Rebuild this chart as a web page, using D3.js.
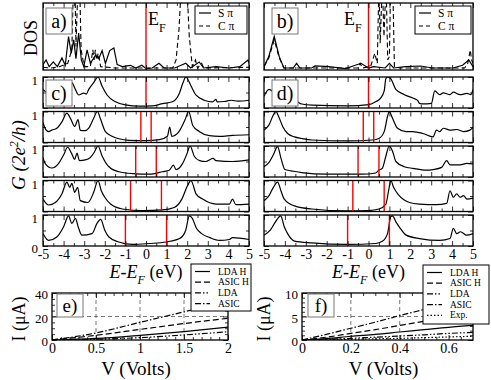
<!DOCTYPE html>
<html>
<head>
<meta charset="utf-8">
<script src="https://cdn.jsdelivr.net/npm/d3@7"></script>
<style>
body { margin: 0; background: #fff; }
svg, svg text { font-family: "Liberation Serif", "DejaVu Serif", serif; }
</style>
</head>
<body>
<svg id="fig" width="491" height="380"></svg>
<script>
// ---- DOS (E en eV, valeur relative) ----
const dosA_S = [[-5,0.08],[-4.85,0.15],[-4.7,0.05],[-4.5,0.12],[-4.3,0.05],[-4.08,0.18],[-3.92,0.07],[-3.76,0.5],[-3.63,0.25],[-3.51,0.45],[-3.4,0.17],[-3.27,0.55],[-3.14,0.15],[-3.02,0.05],[-2.86,0.3],[-2.7,0.1],[-2.45,0.22],[-2.29,0.17],[-2.13,0.29],[-1.97,0.1],[-1.76,0.29],[-1.56,0.33],[-1.4,0.08],[-1.15,0.05],[-0.75,0.07],[-0.5,0.03],[-0.2,0.07],[0,0.02],[0.3,0.03],[0.63,0.1],[0.88,0.03],[1.4,0.03],[1.93,0.1],[2.17,0.03],[2.58,0.12],[2.8,0.03],[3.4,0.05],[4.05,0.03],[4.55,0.05],[4.95,0.15],[5,0.1]];
const dosA_C = [[-5,0.04],[-4.6,0.03],[-4.2,0.05],[-3.8,0.1],[-3.6,0.3],[-3.52,1.3],[-3.45,1.3],[-3.4,0.35],[-3.3,1.3],[-3.22,1.3],[-3.15,0.3],[-3.0,0.05],[-2.7,0.05],[-2.58,0.3],[-2.52,0.15],[-2.46,0.3],[-2.4,0.15],[-2.32,0.25],[-2.2,0.05],[-1.5,0.03],[1.3,0.03],[1.46,0.15],[1.6,0.6],[1.72,1.3],[1.98,1.3],[2.1,0.5],[2.25,0.05],[2.4,0.15],[2.5,0.03],[2.7,0.1],[2.8,0.03],[5,0.04]];
const dosB_S = [[-5,0.05],[-4.77,0.2],[-4.51,0.5],[-4.27,0.2],[-4.05,0.03],[-3.6,0.03],[-3.44,0.1],[-3.28,0.03],[-2.72,0.03],[-2.56,0.06],[-1.9,0.05],[-1.1,0.02],[-0.36,0.1],[0,0.03],[0.24,0.05],[0.8,0.03],[1.0,0.1],[1.2,0.03],[1.77,0.05],[2.5,0.06],[3.06,0.03],[4.04,0.03],[4.5,0.07],[4.8,0.15],[5,0.05]];
const dosB_C = [[-5,0.05],[-4.77,0.18],[-4.51,0.45],[-4.27,0.18],[-4.05,0.03],[-0.5,0.03],[-0.4,0.1],[-0.3,0.03],[0.1,0.05],[0.3,0.25],[0.42,0.1],[0.5,1.3],[0.56,0.4],[0.66,1.3],[0.74,0.5],[0.84,1.3],[0.92,0.15],[1.0,0.2],[1.06,1.3],[1.16,1.3],[1.24,0.05],[1.5,0.03],[4.6,0.03],[4.75,0.1],[4.87,0.3],[4.93,0.15],[5,0.1]];

// ---- Transmission G (2e^2/h) ----
const gC1 = [[-5,0.6],[-4.8,0.5],[-3.6,0.82],[-3.43,0.6],[-3.27,0.42],[-3.02,0.48],[-2.9,0.45],[-2.78,0.6],[-2.54,0.82],[-2.33,1.0],[-2.13,0.7],[-1.89,0.42],[-1.48,0.2],[-1.0,0.1],[-0.34,0.06],[0.3,0.07],[0.8,0.14],[1.28,0.2],[1.6,0.44],[1.8,0.82],[1.93,1.0],[2.18,0.72],[2.42,0.42],[2.83,0.25],[3.23,0.2],[3.4,0.28],[3.45,0.2],[3.8,0.21],[4.15,0.25],[4.45,0.22],[5,0.25]];
const gC2 = [[-5,0.65],[-4.9,0.46],[-4.73,0.35],[-4.57,0.4],[-4.33,0.46],[-4.08,0.67],[-3.84,0.95],[-3.67,0.78],[-3.46,0.52],[-3.3,0.74],[-3.19,0.39],[-2.95,0.38],[-2.78,0.46],[-2.54,0.78],[-2.36,1.0],[-2.2,0.74],[-1.97,0.35],[-1.65,0.2],[-1.32,0.12],[-0.83,0.07],[0,0.06],[0.65,0.09],[1.04,0.2],[1.15,0.5],[1.25,0.2],[1.6,0.35],[1.9,0.74],[2.07,1.0],[2.27,0.55],[2.6,0.35],[3.07,0.22],[3.56,0.2],[4.2,0.23],[5,0.25]];
const gC3 = [[-5,0.63],[-4.9,0.44],[-4.57,0.29],[-4.24,0.44],[-4.0,0.71],[-3.8,0.96],[-3.62,0.77],[-3.46,0.57],[-3.35,0.77],[-3.23,0.53],[-2.95,0.55],[-2.7,0.63],[-2.5,0.81],[-2.33,1.0],[-2.13,0.68],[-1.8,0.33],[-1.32,0.17],[-0.65,0.11],[0.16,0.09],[0.8,0.17],[1.13,0.22],[1.33,0.38],[1.46,0.24],[1.78,0.44],[2.0,0.77],[2.14,1.0],[2.35,0.66],[2.6,0.53],[2.9,0.5],[3.25,0.6],[3.4,0.53],[4.2,0.5],[5,0.55]];
const gC4 = [[-5,0.4],[-4.73,0.21],[-4.4,0.29],[-4.08,0.57],[-3.84,0.95],[-3.7,0.78],[-3.6,0.91],[-3.46,0.62],[-3.32,0.78],[-3.19,0.35],[-2.82,0.29],[-2.54,0.62],[-2.33,1.0],[-2.17,0.67],[-2.0,0.46],[-1.72,0.24],[-1.15,0.08],[-0.16,0.03],[0.8,0.05],[1.37,0.13],[1.74,0.4],[2.02,0.84],[2.18,1.0],[2.43,0.57],[2.75,0.4],[3.4,0.24],[4.05,0.24],[4.2,0.4],[4.36,0.22],[5,0.24]];
const gC5 = [[-5,0.4],[-4.73,0.18],[-4.33,0.29],[-4.0,0.62],[-3.76,0.97],[-3.6,0.73],[-3.43,0.89],[-3.27,0.57],[-3.11,0.35],[-2.62,0.4],[-2.38,0.73],[-2.2,0.86],[-2.0,0.51],[-1.8,0.29],[-1.32,0.13],[-0.65,0.05],[0.16,0.08],[0.98,0.13],[1.63,0.24],[1.93,0.51],[2.1,0.97],[2.25,0.89],[2.45,0.57],[2.7,0.4],[3.1,0.27],[3.56,0.18],[4.05,0.21],[4.2,0.27],[5,0.21]];
const gD1 = [[-5,0.38],[-4.76,0.6],[-4.5,0.5],[-3.4,0.2],[-3.2,0.13],[-2.7,0.09],[-1,0.07],[0.02,0.11],[0.34,0.2],[0.58,0.32],[0.75,0.55],[0.83,0.94],[0.91,1.0],[1.07,0.94],[1.31,0.6],[1.72,0.43],[2.12,0.32],[2.36,0.24],[2.44,0.15],[2.6,0.13],[3.01,0.15],[3.17,0.55],[3.41,0.43],[3.58,0.49],[3.9,0.43],[4.06,0.51],[4.38,0.43],[4.71,0.47],[4.9,0.43],[5,0.6]];
const gD2 = [[-5,0.4],[-4.76,0.57],[-4.55,0.89],[-4.43,1.0],[-4.3,0.84],[-4.1,0.51],[-3.87,0.29],[-3.54,0.18],[-3.2,0.13],[-2.7,0.08],[-1,0.05],[0.18,0.08],[0.5,0.13],[0.75,0.35],[0.91,0.84],[0.99,1.0],[1.15,0.78],[1.39,0.46],[1.8,0.35],[2.12,0.35],[2.6,0.29],[3.09,0.18],[3.25,0.4],[3.41,0.35],[3.58,0.46],[3.9,0.4],[4.22,0.42],[4.55,0.35],[4.85,0.4],[5,0.49]];
const gD3 = [[-5,0.33],[-4.76,0.47],[-4.55,0.72],[-4.35,0.98],[-4.19,0.61],[-4.0,0.24],[-3.7,0.2],[-3.2,0.14],[-2,0.09],[-0.3,0.09],[0.34,0.13],[0.5,0.22],[0.66,0.28],[0.83,0.67],[0.99,1.0],[1.15,0.83],[1.31,0.5],[1.72,0.33],[2.12,0.28],[2.77,0.22],[3.09,0.24],[3.5,0.31],[3.74,0.53],[3.9,0.39],[4.38,0.39],[4.71,0.44],[5,0.42]];
const gD4 = [[-5,0.35],[-4.76,0.51],[-4.55,0.78],[-4.35,0.95],[-4.19,0.67],[-4.03,0.4],[-3.54,0.18],[-2.72,0.08],[-1,0.02],[0,0.03],[0.5,0.08],[0.83,0.24],[0.99,0.78],[1.07,1.0],[1.2,0.78],[1.47,0.51],[1.96,0.29],[2.44,0.24],[3.25,0.22],[3.74,0.26],[3.9,0.67],[4.06,0.46],[4.22,0.57],[4.38,0.46],[4.55,0.51],[4.71,0.4],[5,0.43]];
const gD5 = [[-5,0.35],[-4.7,0.51],[-4.45,0.78],[-4.2,0.97],[-4.03,0.62],[-3.87,0.4],[-3.54,0.16],[-2.72,0.1],[-1,0.05],[0.34,0.08],[0.66,0.15],[0.91,0.4],[1.07,0.95],[1.15,0.97],[1.31,0.78],[1.47,0.62],[1.8,0.35],[2.44,0.24],[3.41,0.18],[3.9,0.24],[4.06,0.57],[4.22,0.4],[4.4,0.46],[4.7,0.35],[5,0.4]];
const biasHalf = [0, 0.25, 0.5, 0.75, 1];
const energyTicks = [-5,-4,-3,-2,-1,0,1,2,3,4,5];

// ---- Courbes I-V ----
const voltsE = [0, 0.5, 1, 1.5, 2];
const ivE_ldaH = [0, 1.3, 4, 7.2, 11];
const ivE_asicH = [0, 4, 9, 14, 18.5];
const ivE_lda = [0, 0.6, 2, 4.3, 7];
const ivE_asic = [0, 6, 15, 24, 33];
const voltsF = [0, 0.1, 0.2, 0.3, 0.4, 0.5, 0.6, 0.7];
const ivF_ldaH = [0, 0.3, 0.8, 1.2, 1.7, 2.2, 2.7, 3.1];
const ivF_asicH = [0, 0.6, 1.4, 2.2, 3.1, 4.0, 5.0, 5.8];
const ivF_lda = [0, 0.15, 0.35, 0.6, 0.85, 1.1, 1.4, 1.6];
const ivF_asic = [0, 1.2, 2.5, 3.8, 5.2, 6.5, 7.8, 9];
const ivF_exp = [0, 0.05, 0.15, 0.25, 0.35, 0.5, 0.65, 0.8];
const legendIV = ['LDA H', 'ASIC H', 'LDA', 'ASIC', 'Exp.'];
const dashIV = [null, '6,3', '6,2,1.5,2,1.5,2', '6,2,1.5,2', '1.5,2'];

const SERIF = '"Liberation Serif", "DejaVu Serif", serif';
const svg = d3.select('#fig');
let clipId = 0;

// cadre + ticks vers l'intérieur
function panelFrame(x, y, ticksX, minorX, ticksY, minorY) {
    const g = svg.append('g');
    const [x0, x1] = x.range();
    const [y1, y0] = y.range();
    const mk = (axis, tr) => g.append('g').attr('transform', tr).call(axis)
        .call(s => s.select('.domain').remove())
        .call(s => s.selectAll('line').attr('stroke', '#000').attr('stroke-width', 0.8));
    mk(d3.axisBottom(x).tickValues(ticksX).tickSize(-5).tickFormat(''), `translate(0,${y1})`);
    mk(d3.axisTop(x).tickValues(ticksX).tickSize(-5).tickFormat(''), `translate(0,${y0})`);
    mk(d3.axisBottom(x).tickValues(minorX).tickSize(-3).tickFormat(''), `translate(0,${y1})`);
    mk(d3.axisTop(x).tickValues(minorX).tickSize(-3).tickFormat(''), `translate(0,${y0})`);
    if (ticksY) {
        mk(d3.axisLeft(y).tickValues(ticksY).tickSize(-5).tickFormat(''), `translate(${x0},0)`);
        mk(d3.axisRight(y).tickValues(ticksY).tickSize(-5).tickFormat(''), `translate(${x1},0)`);
        mk(d3.axisLeft(y).tickValues(minorY).tickSize(-3).tickFormat(''), `translate(${x0},0)`);
        mk(d3.axisRight(y).tickValues(minorY).tickSize(-3).tickFormat(''), `translate(${x1},0)`);
    }
    return g;
}

function clipFor(x, y) {
    const id = 'clip' + (clipId++);
    const [x0, x1] = x.range();
    const [y1, y0] = y.range();
    svg.append('clipPath').attr('id', id).append('rect')
        .attr('x', x0).attr('y', y0).attr('width', x1 - x0).attr('height', y1 - y0);
    return svg.append('g').attr('clip-path', `url(#${id})`);
}

function border(x, y) {
    const [x0, x1] = x.range();
    const [y1, y0] = y.range();
    svg.append('rect').attr('x', x0).attr('y', y0).attr('width', x1 - x0).attr('height', y1 - y0)
        .attr('fill', 'none').attr('stroke', '#000').attr('stroke-width', 1.3);
}

function labelBox(bx, by, w, h, txt, size) {
    svg.append('rect').attr('x', bx).attr('y', by).attr('width', w).attr('height', h)
        .attr('fill', '#fff').attr('stroke', '#777').attr('stroke-width', 1);
    svg.append('text').attr('x', bx + w / 2).attr('y', by + h / 2 + size * 0.34)
        .attr('text-anchor', 'middle').attr('font-size', size).text(txt);
}

const minorE = d3.range(-4.5, 5, 1);

// ---- panneaux DOS a) b) ----
function dosPanel(x, s, c, lab, lbx, efx, legX) {
    const y = d3.scaleLinear([0, 1], [70, 3]);
    const line = d3.line().x(d => x(d[0])).y(d => y(d[1]));
    const cg = clipFor(x, y);
    cg.append('path').datum(c).attr('d', line).attr('fill', 'none').attr('stroke', '#000')
        .attr('stroke-width', 1.1).attr('stroke-dasharray', '5,3');
    cg.append('path').datum(s).attr('d', line).attr('fill', 'none').attr('stroke', '#000').attr('stroke-width', 1.2);
    cg.append('line').attr('x1', x(0)).attr('x2', x(0)).attr('y1', 3).attr('y2', 70)
        .attr('stroke', '#f00').attr('stroke-width', 1.4);
    panelFrame(x, y, energyTicks, minorE, null, null);
    border(x, y);
    labelBox(lbx, 8, 26, 26, lab, 20);
    svg.append('text').attr('x', efx).attr('y', 25).attr('font-size', 18)
        .html('E<tspan dy="7" font-size="12">F</tspan>');
    // légende
    svg.append('rect').attr('x', legX).attr('y', 6).attr('width', x.range()[1] - legX - 2).attr('height', 28)
        .attr('fill', '#fff').attr('stroke', '#000').attr('stroke-width', 1);
    [['S π', null, 17], ['C π', '4,3', 30]].forEach(([t, dash, ly]) => {
        svg.append('line').attr('x1', legX + 4).attr('x2', legX + 16).attr('y1', ly - 4).attr('y2', ly - 4)
            .attr('stroke', '#000').attr('stroke-width', 1.2).attr('stroke-dasharray', dash);
        svg.append('text').attr('x', legX + 23).attr('y', ly).attr('font-size', 11.5).text(t);
    });
}

const xL = d3.scaleLinear([-5, 5], [43, 249]);
const xR = d3.scaleLinear([-5, 5], [264, 473]);
dosPanel(xL, dosA_S, dosA_C, 'a)', 46, 148, 195);
dosPanel(xR, dosB_S, dosB_C, 'b)', 272, 344, 415);

svg.append('text').attr('transform', 'translate(37,38) rotate(-90)').attr('text-anchor', 'middle')
    .attr('font-size', 18).text('DOS');

// ---- panneaux G c) d) ----
const rowTops = [77, 111.5, 146, 180.5, 215];
const rowH = 31;
function gPanel(x, data, top, half) {
    const y = d3.scaleLinear([0, 1], [top + rowH, top]);
    const line = d3.line().x(d => x(d[0])).y(d => y(d[1])).curve(d3.curveMonotoneX);
    const cg = clipFor(x, y);
    cg.append('path').datum(data).attr('d', line).attr('fill', 'none').attr('stroke', '#000').attr('stroke-width', 1.2);
    const reds = half === 0 ? [0] : [-half, half];
    cg.selectAll('.bias').data(reds).enter().append('line')
        .attr('x1', d => x(d)).attr('x2', d => x(d)).attr('y1', top).attr('y2', top + rowH)
        .attr('stroke', '#f00').attr('stroke-width', 1.4);
    panelFrame(x, y, energyTicks, minorE, [0, 1], [0.5]);
    border(x, y);
    return y;
}
const leftG = [gC1, gC2, gC3, gC4, gC5];
const rightG = [gD1, gD2, gD3, gD4, gD5];
leftG.forEach((d, i) => {
    const y = gPanel(xL, d, rowTops[i], biasHalf[i]);
    svg.append('text').attr('x', 38).attr('y', y(1) + 8).attr('text-anchor', 'end').attr('font-size', 13).text('1');
    if (i === 4) svg.append('text').attr('x', 38).attr('y', y(0) + 7).attr('text-anchor', 'end').attr('font-size', 13).text('0');
});
rightG.forEach((d, i) => gPanel(xR, d, rowTops[i], biasHalf[i]));
labelBox(46, 80, 26, 26, 'c)', 20);
labelBox(272, 80, 26, 26, 'd)', 20);

[xL, xR].forEach(x => {
    const ax = svg.append('g').attr('transform', `translate(0,${rowTops[4] + rowH})`)
        .call(d3.axisBottom(x).tickValues(energyTicks).tickSize(0).tickPadding(3).tickFormat(d => String(d)));
    ax.select('.domain').remove();
    ax.attr('font-size', 14).attr('font-family', SERIF);
    const cx = (x.range()[0] + x.range()[1]) / 2;
    svg.append('text').attr('x', cx).attr('y', 278).attr('text-anchor', 'middle').attr('font-size', 18)
        .html('<tspan font-style="italic">E-E</tspan><tspan dy="6" font-size="12" font-style="italic">F</tspan><tspan dy="-6"> (eV)</tspan>');
});

svg.append('text').attr('transform', 'translate(25,155) rotate(-90)').attr('text-anchor', 'middle')
    .attr('font-size', 19).attr('font-style', 'italic')
    .html('G (2e<tspan dy="-7" font-size="12">2</tspan><tspan dy="7">/h)</tspan>');

// ---- panneaux I-V e) f) ----
function ivPanel(x, y, volts, series, gridX, gridY, ticksX, minorX, ticksY, minorY, fmtX, lab, lbx, ylx, legBox) {
    const cg = clipFor(x, y);
    gridX.forEach(v => cg.append('line').attr('x1', x(v)).attr('x2', x(v)).attr('y1', y.range()[1]).attr('y2', y.range()[0])
        .attr('stroke', '#555').attr('stroke-width', 0.8).attr('stroke-dasharray', '4,3'));
    gridY.forEach(v => cg.append('line').attr('x1', x.range()[0]).attr('x2', x.range()[1]).attr('y1', y(v)).attr('y2', y(v))
        .attr('stroke', '#555').attr('stroke-width', 0.8).attr('stroke-dasharray', '4,3'));
    const line = d3.line().x((d, i) => x(volts[i])).y(d => y(d)).curve(d3.curveMonotoneX);
    series.forEach((s, k) => cg.append('path').datum(s).attr('d', line).attr('fill', 'none')
        .attr('stroke', '#000').attr('stroke-width', 1.2).attr('stroke-dasharray', dashIV[k]));
    panelFrame(x, y, ticksX, minorX, ticksY, minorY);
    border(x, y);
    labelBox(lbx, 294, 26, 23, lab, 19);
    const axX = svg.append('g').attr('transform', `translate(0,${y.range()[0]})`)
        .call(d3.axisBottom(x).tickValues(ticksX).tickSize(0).tickPadding(3).tickFormat(fmtX));
    axX.select('.domain').remove();
    axX.attr('font-size', 14).attr('font-family', SERIF);
    const axY = svg.append('g').attr('transform', `translate(${x.range()[0]},0)`)
        .call(d3.axisLeft(y).tickValues(ticksY).tickSize(0).tickPadding(4));
    axY.select('.domain').remove();
    axY.attr('font-size', 13).attr('font-family', SERIF);
    axY.selectAll('text').attr('dy', '0.45em');
    svg.append('text').attr('x', (x.range()[0] + x.range()[1]) / 2 - 4).attr('y', 375).attr('text-anchor', 'middle')
        .attr('font-size', 19).text('V (Volts)');
    svg.append('text').attr('transform', `translate(${ylx},319) rotate(-90)`).attr('text-anchor', 'middle')
        .attr('font-size', 18).text('I (μA)');
    // légende
    const [lx, ly, lw, lh, tx] = legBox;
    svg.append('rect').attr('x', lx).attr('y', ly).attr('width', lw).attr('height', lh)
        .attr('fill', '#fff').attr('stroke', '#000').attr('stroke-width', 1);
    series.forEach((s, k) => {
        const yy = ly + 10.5 + k * 10.7;
        svg.append('line').attr('x1', lx + 4).attr('x2', lx + tx - 8).attr('y1', yy - 3).attr('y2', yy - 3)
            .attr('stroke', '#000').attr('stroke-width', 1.2).attr('stroke-dasharray', dashIV[k]);
        svg.append('text').attr('x', lx + tx).attr('y', yy).attr('font-size', 9.5).text(legendIV[k]);
    });
}

const xE = d3.scaleLinear([0, 2], [52, 228]);
const yE = d3.scaleLinear([0, 40], [340, 293]);
ivPanel(xE, yE, voltsE, [ivE_ldaH, ivE_asicH, ivE_lda, ivE_asic], [0.5, 1, 1.5], [20],
    [0, 0.5, 1, 1.5, 2], d3.range(0.1, 2, 0.1).filter((v, i) => (i + 1) % 5 !== 0),
    [0, 20, 40], d3.range(5, 40, 5).filter(v => v !== 20), d3.format(''), 'e)', 57, 25,
    [191, 264, 60, 47, 27]);

const xF = d3.scaleLinear([0, 0.7], [302, 473]);
const yF = d3.scaleLinear([0, 10], [340, 293]);
ivPanel(xF, yF, voltsF, [ivF_ldaH, ivF_asicH, ivF_lda, ivF_asic, ivF_exp], [0.2, 0.4], [5],
    [0, 0.2, 0.4, 0.6], d3.range(0.05, 0.7, 0.05).filter(v => Math.abs(v / 0.2 - Math.round(v / 0.2)) > 1e-6),
    [0, 5, 10], d3.range(1, 10, 1).filter(v => v !== 5), d3.format(''), 'f)', 308, 270,
    [423, 265, 66, 59, 27]);
</script>
</body>
</html>
